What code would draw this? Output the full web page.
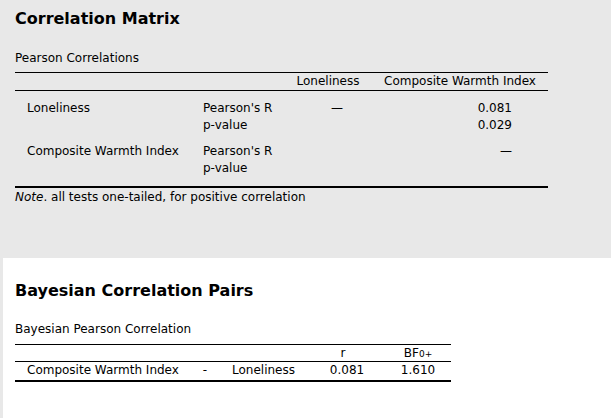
<!DOCTYPE html>
<html><head><meta charset="utf-8">
<script src="https://cdn.jsdelivr.net/npm/chart.js@4"></script>
<style>
body{margin:0;width:611px;height:418px;background:#e8e8e8;font-family:"DejaVu Sans",sans-serif;font-size:12px;color:#000;position:relative;overflow:hidden}
#white{position:absolute;left:3px;top:258px;width:608px;height:160px;background:#fff}
.t{position:absolute;white-space:nowrap;line-height:14px}
.h{font-size:16px;font-weight:bold;line-height:20px}
.line{position:absolute;background:#000}
</style></head><body>
<div id="white"></div>
<script>
// data
const variables = ["Loneliness", "Composite Warmth Index"];
const statLabels = ["Pearson's R", "p-value"];
const pearsonR = ["0.081"];
const pValue = ["0.029"];
const bayesHeaders = ["r", "BF"];
const bayesPair = ["Composite Warmth Index", "-", "Loneliness"];
const bayesValues = ["0.081", "1.610"];

function text(s, x, y, align, cls) {
  const d = document.createElement('div');
  d.className = 't ' + (cls || '');
  d.innerHTML = s;
  d.style.top = (y - 7) + 'px';
  if (align === 'center') { d.style.left = (x - 200) + 'px'; d.style.width = '400px'; d.style.textAlign = 'center'; }
  else if (align === 'right') { d.style.right = (611 - x) + 'px'; }
  else d.style.left = x + 'px';
  document.body.appendChild(d);
}
function line(x1, x2, y, w) {
  const d = document.createElement('div');
  d.className = 'line';
  d.style.left = x1 + 'px'; d.style.width = (x2 - x1) + 'px';
  d.style.top = y + 'px'; d.style.height = (w || 1) + 'px';
  document.body.appendChild(d);
}

// Correlation matrix
text("Correlation Matrix", 15, 16, 'left', 'h');
text("Pearson Correlations", 15, 58);
line(15, 548, 72); line(15, 548, 90); line(15, 548, 186, 2);
text(variables[0], 328, 81, 'center');
text(variables[1], 460, 81, 'center');
text(variables[0], 27, 108);
text(statLabels[0], 203, 108); text(statLabels[1], 203, 125);
text("—", 337, 108, 'center');
text(pearsonR[0], 512, 108, 'right');
text(pValue[0], 512, 125, 'right');
text(variables[1], 27, 151);
text(statLabels[0], 203, 151); text(statLabels[1], 203, 168);
text("—", 506, 151, 'center');
text("<i>Note</i>. all tests one-tailed, for positive correlation", 15, 197);

// Bayesian pairs
text("Bayesian Correlation Pairs", 15, 288, 'left', 'h');
text("Bayesian Pearson Correlation", 15, 329);
line(15, 451, 344); line(15, 451, 361); line(15, 451, 380, 2);
text(bayesHeaders[0], 343, 353, 'center');
text(bayesHeaders[1] + '<span style="font-size:9px">0+</span>', 418, 353, 'center');
text(bayesPair[0], 27, 370);
text(bayesPair[1], 205, 370, 'center');
text(bayesPair[2], 232, 370);
text(bayesValues[0], 347, 370, 'center');
text(bayesValues[1], 418, 370, 'center');
</script>
</body></html>
